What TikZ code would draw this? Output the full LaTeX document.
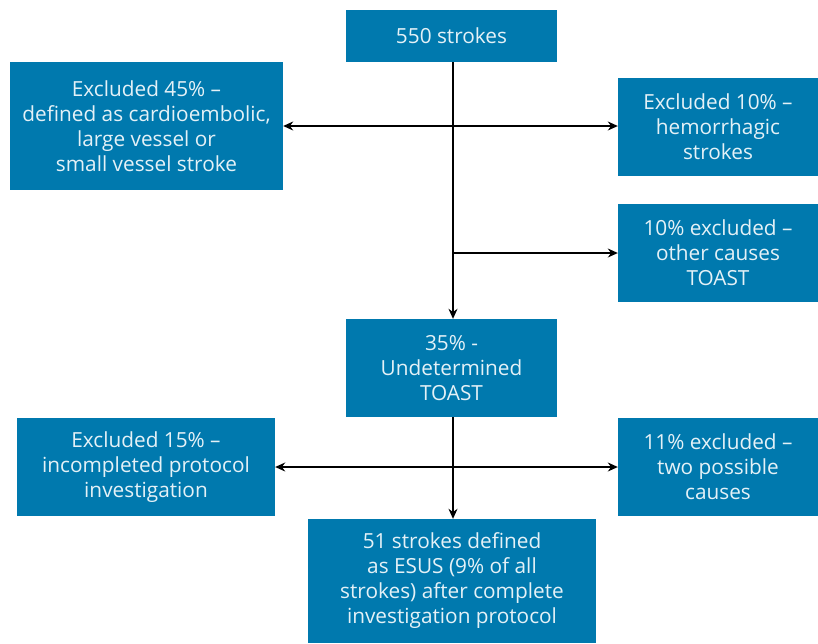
\documentclass[tikz,border=0pt]{standalone}
\usepackage{fontspec}
\setmainfont{Open Sans}
\usetikzlibrary{arrows.meta}
\definecolor{boxblue}{HTML}{0079AE}
\definecolor{boxtext}{HTML}{E4F1F7}
\begin{document}
\begin{tikzpicture}[x=1pt,y=-1pt,
  box/.style={fill=boxblue,text=boxtext,align=center,inner sep=0pt,
    font=\fontsize{20.8}{25}\selectfont},
  conn/.style={line width=1.2pt,draw=black},
  tip/.style={-{Stealth[length=10pt,width=9pt]}},
  tips/.style={{Stealth[length=10pt,width=9pt]}-{Stealth[length=10pt,width=9pt]}}]
\useasboundingbox (0,0) rectangle (818,643);
\node[box,minimum width=211pt,minimum height=52pt] (top) at (451.5,36) {550 strokes};
\node[box,minimum width=273pt,minimum height=128pt] (l1) at (146.5,126) {Excluded 45\% –\\defined as cardioembolic,\\large vessel or\\small vessel stroke};
\node[box,minimum width=200pt,minimum height=98pt] (r1) at (718,127) {Excluded 10\% –\\hemorrhagic\\strokes};
\node[box,minimum width=200pt,minimum height=98pt] (r2) at (718,253) {10\% excluded –\\other causes\\TOAST};
\node[box,minimum width=211pt,minimum height=98pt] (mid) at (451.5,368) {35\% -\\Undetermined\\TOAST};
\node[box,minimum width=258pt,minimum height=98pt] (l2) at (146,467) {Excluded 15\% –\\incompleted protocol\\investigation};
\node[box,minimum width=200pt,minimum height=98pt] (r3) at (718,467) {11\% excluded –\\two possible\\causes};
\node[box,minimum width=288pt,minimum height=124pt] (bot) at (452,581) {51 strokes defined\\as ESUS (9\% of all\\strokes) after complete\\investigation protocol};
\coordinate (j1) at (453,126);
\coordinate (j2) at (453,253);
\coordinate (j3) at (453,467);
\draw[conn,tip] (top.south -| j1) -- (mid.north -| j1);
\draw[conn,tips] (l1.east |- j1) -- (r1.west |- j1);
\draw[conn,tip] (j2) -- (r2.west |- j2);
\draw[conn,tip] (mid.south -| j3) -- (bot.north -| j3);
\draw[conn,tips] (l2.east |- j3) -- (r3.west |- j3);
\end{tikzpicture}
\end{document}
